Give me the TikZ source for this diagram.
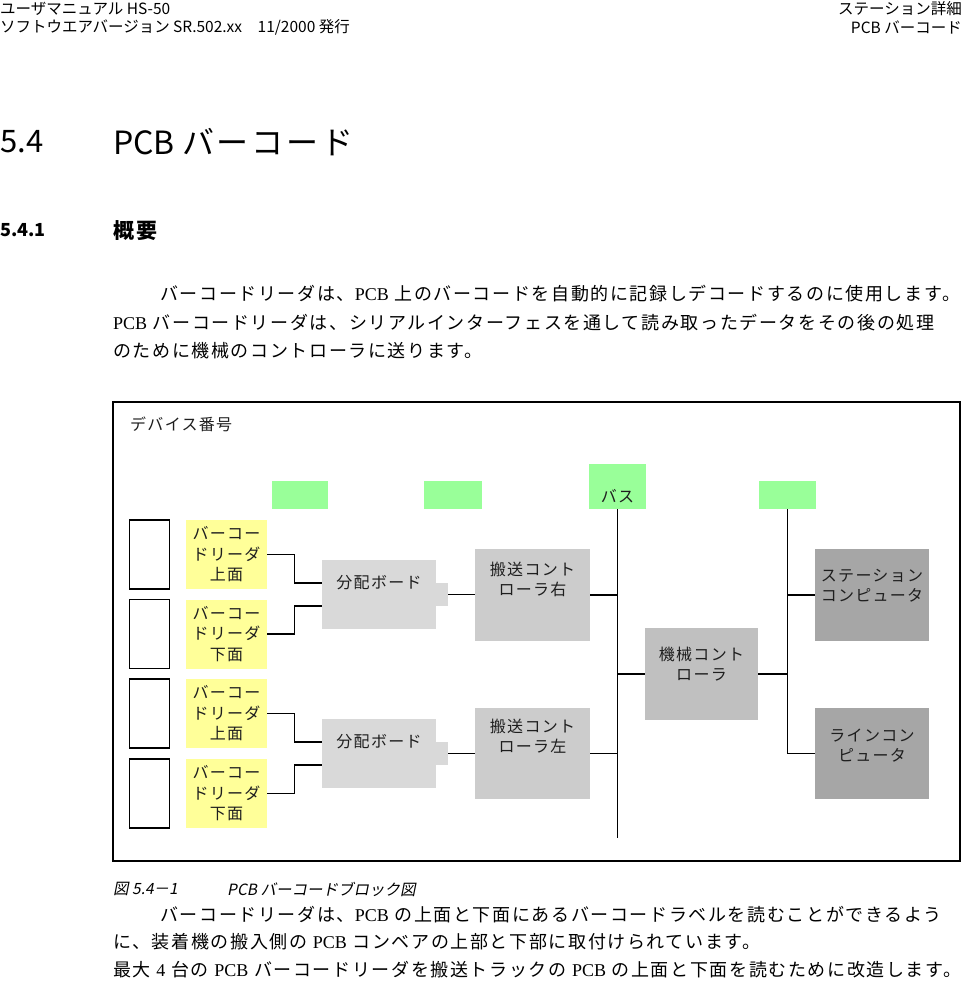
\documentclass[tikz,border=0pt]{standalone}
\usepackage{fontspec}
\setmainfont{Noto Sans CJK JP}
\newfontfamily\diagfont[LetterSpace=8]{Noto Sans CJK JP}
\newfontfamily\bodyfont[LetterSpace=9]{Noto Sans CJK JP}
\newfontfamily\pcbfont{Liberation Serif}
\newfontfamily\capfont[FakeSlant=0.2]{Noto Sans CJK JP}
\usetikzlibrary{positioning,calc}
\definecolor{readercol}{RGB}{255,255,153}
\definecolor{tagcol}{RGB}{153,255,153}
\definecolor{boardcol}{RGB}{217,217,217}
\definecolor{convcol}{RGB}{204,204,204}
\definecolor{mccol}{RGB}{192,192,192}
\definecolor{pccol}{RGB}{166,166,166}
\definecolor{inkcol}{RGB}{30,30,30}
\newcommand{\blocktxt}[4]{\parbox[c][#2][t]{#1}{\centering\vspace*{#3}#4}}
\tikzset{
  txt/.style={inner sep=0pt, anchor=west},
  hdr/.style={inner sep=0pt, font=\fontsize{15.5}{18}\selectfont},
  body/.style={txt, font=\bodyfont\fontsize{18}{20}\selectfont},
  diag/.style={font=\diagfont\fontsize{16}{20}\selectfont, text=inkcol},
  slot/.style={draw, line width=1.1pt, fill=white, minimum width=40pt, minimum height=69pt, inner sep=0pt},
  reader/.style={diag, fill=readercol, minimum width=81pt, minimum height=69pt, inner sep=0pt, align=center,
    font=\diagfont\fontsize{16}{20.5}\selectfont},
  tagbox/.style={fill=tagcol, minimum width=57pt, minimum height=28pt, inner sep=0pt},
  blk/.style={diag, inner sep=0pt},
  wire/.style={line width=1.1pt},
  frameln/.style={line width=1.2pt},
}

\begin{document}
\begin{tikzpicture}[x=1pt,y=-1pt]
  \path[use as bounding box, fill=white] (0,0) rectangle (963,999);
  % page header
  \node[hdr, anchor=west] (hl1) at (0,9) {ユーザマニュアル HS-50};
  \node[hdr, anchor=west] (hl2) at (0,27) {ソフトウエアバージョン SR.502.xx\quad 11/2000 発行};
  \node[hdr, anchor=east] (hr1) at (962,9) {ステーション詳細};
  \node[hdr, anchor=east] (hr2) at (962,27) {PCB バーコード};
  % headings
  \node[txt, font=\fontsize{31}{34}\selectfont] (secnum) at (0,142) {5.4};
  \node[txt, font=\fontsize{32}{34}\selectfont] (sectitle) at (113,142) {PCB {\bodyfont バーコード}};
  \node[txt, font=\bfseries\fontsize{18}{20}\selectfont] (subnum) at (0,230) {5.4.1};
  \node[txt, font=\bodyfont\bfseries\fontsize{21}{24}\selectfont] (subtitle) at (113,231) {概要};
  % first paragraph
  \node[body] (p1a) at (160,294) {バーコードリーダは、{\pcbfont PCB} 上のバーコードを自動的に記録しデコードするのに使用します。};
  \node[body] (p1b) at (113,323) {{\pcbfont PCB} バーコードリーダは、シリアルインターフェスを通して読み取ったデータをその後の処理};
  \node[body] (p1c) at (113,351) {のために機械のコントローラに送ります。};

  % diagram frame
  \draw[frameln] (113,402) rectangle (960,861);
  \node[txt, diag] (devno) at (130,424) {デバイス番号};
  % device number tags
  \node[tagbox, minimum width=56pt] (tag1) at (300,495) {};
  \node[tagbox, minimum width=58pt] (tag2) at (453,495) {};
  \node[blk, fill=tagcol] (bus) at (617.5,486.5) {\blocktxt{57pt}{45pt}{25pt}{バス}};
  \node[tagbox] (tag4) at (787.5,495) {};
  % PCB slots and readers
  \node[slot] (pcb1) at (149.5,554.5) {};
  \node[slot] (pcb2) at (149.5,634) {};
  \node[slot] (pcb3) at (149.5,713.5) {};
  \node[slot] (pcb4) at (149.5,793.5) {};
  \node[reader] (rd1) at (226.5,554.5) {バーコー\\ドリーダ\\上面};
  \node[reader] (rd2) at (226.5,634) {バーコー\\ドリーダ\\下面};
  \node[reader] (rd3) at (226.5,713.5) {バーコー\\ドリーダ\\上面};
  \node[reader] (rd4) at (226.5,793.5) {バーコー\\ドリーダ\\下面};
  % distribution boards
  \node[blk, fill=boardcol] (bd1) at (379,594.5) {\blocktxt{114pt}{69pt}{15pt}{分配ボード}};
  \node[fill=boardcol, minimum width=12pt, minimum height=23pt, inner sep=0pt] (tab1) at (442,594.5) {};
  \node[blk, fill=boardcol] (bd2) at (379,753.5) {\blocktxt{114pt}{69pt}{15pt}{分配ボード}};
  \node[fill=boardcol, minimum width=12pt, minimum height=23pt, inner sep=0pt] (tab2) at (442,753.5) {};
  % controllers and computers
  \node[blk, fill=convcol] (cvR) at (532.5,595) {\blocktxt{115pt}{92pt}{13.5pt}{搬送コント\\ローラ右}};
  \node[blk, fill=convcol] (cvL) at (532.5,753.5) {\blocktxt{115pt}{91pt}{11.5pt}{搬送コント\\ローラ左}};
  \node[blk, fill=mccol] (mc) at (701.5,674) {\blocktxt{113pt}{92pt}{19.5pt}{機械コント\\ローラ}};
  \node[blk, fill=pccol] (stn) at (872,595) {\blocktxt{114pt}{92pt}{20.5pt}{ステーション\\コンピュータ}};
  \node[blk, fill=pccol] (lpc) at (872,753.5) {\blocktxt{114pt}{91pt}{20.5pt}{ラインコン\\ピュータ}};
  % readers to boards
  \draw[wire] (rd1.east) -- ++(27,0) |- ([yshift=11.5pt]bd1.west);
  \draw[wire] (rd2.east) -- ++(27,0) |- ([yshift=-11.5pt]bd1.west);
  \draw[wire] (rd3.east) -- ++(27,0) |- ([yshift=11.5pt]bd2.west);
  \draw[wire] (rd4.east) -- ++(27,0) |- ([yshift=-11.5pt]bd2.west);
  \draw[wire] (tab1.east) -- (tab1.east -| cvR.west);
  \draw[wire] (tab2.east) -- (tab2.east -| cvL.west);
  % bus
  \coordinate (busend) at (617.5,838);
  \draw[wire] (bus.south) -- (busend);
  \draw[wire] (cvR.east) -- (cvR.east -| bus.south);
  \draw[wire] (cvL.east) -- (cvL.east -| bus.south);
  \draw[wire] (bus.south |- mc.west) -- (mc.west);
  % computer line
  \draw[wire] (tag4.south) |- (lpc.west);
  \draw[wire] (mc.east) -- (mc.east -| tag4.south);
  \draw[wire] (stn.west -| tag4.south) -- (stn.west);

  % caption
  \node[txt, font=\capfont\fontsize{15.5}{18}\selectfont] (capnum) at (113,889) {図 5.4－1};
  \node[txt, font=\capfont\fontsize{15.5}{18}\selectfont] (captext) at (227,889) {PCB バーコードブロック図};
  % second paragraph
  \node[body] (p2a) at (160,915) {バーコードリーダは、{\pcbfont PCB} の上面と下面にあるバーコードラベルを読むことができるよう};
  \node[body] (p2b) at (113,942) {に、装着機の搬入側の {\pcbfont PCB} コンベアの上部と下部に取付けられています。};
  \node[body] (p2c) at (113,970) {最大 {\pcbfont 4} 台の {\pcbfont PCB} バーコードリーダを搬送トラックの {\pcbfont PCB} の上面と下面を読むために改造します。};
\end{tikzpicture}
\end{document}
